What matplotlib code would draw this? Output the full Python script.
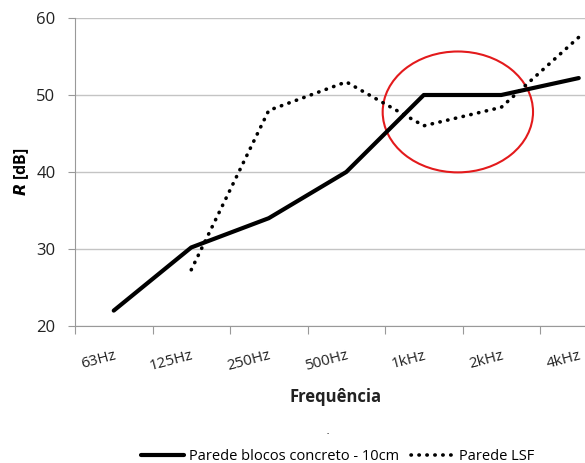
import matplotlib.pyplot as plt
from matplotlib.patches import Ellipse

# data
freqs = ["63Hz", "125Hz", "250Hz", "500Hz", "1kHz", "2kHz", "4kHz"]
concreto = [22.0, 30.2, 34.0, 40.0, 50.0, 50.0, 52.2]
lsf_x = [1, 2, 3, 4, 5, 6]
lsf = [27.3, 48.0, 51.7, 46.0, 48.4, 57.5]

# highlight ellipse (category units, dB)
ell_center = (4.44, 47.8)
ell_w, ell_h = 1.94, 15.7

W, H = 585, 463
fig = plt.figure(figsize=(W / 100, H / 100), dpi=100)
plt.rcParams['font.family'] = ['Open Sans', 'DejaVu Sans']

# axes extends past the right edge (the original image is cropped)
left, right, top, bottom = 75, 617.5, 18, 326
ax = fig.add_axes([left / W, 1 - bottom / H, (right - left) / W, (bottom - top) / H])

x = list(range(len(freqs)))
ax.plot(x, concreto, color="black", lw=3.0, solid_capstyle="round",
        label="Parede blocos concreto - 10cm")
ax.plot(lsf_x, lsf, color="black", lw=2.6, linestyle=(0, (0.1, 2.1)),
        dash_capstyle="round", label="Parede LSF")

ax.add_patch(Ellipse(ell_center, ell_w, ell_h, fill=False, edgecolor="#e31a1c", lw=1.5))

ax.set_xlim(-0.5, len(freqs) - 0.5)
ax.set_ylim(20, 60)
ax.set_yticks([20, 30, 40, 50, 60])
ax.set_xticks([i - 0.5 for i in range(len(freqs) + 1)])
ax.set_xticklabels([])
ax.set_xticks(x, minor=True)
ax.set_xticklabels(freqs, minor=True, rotation=15, fontsize=11, color="#222222",
                   ha="right", va="top", rotation_mode="anchor")
ax.tick_params(axis="x", which="minor", length=0, pad=16)
ax.tick_params(axis="x", which="major", length=6, color="#999999", direction="out")
ax.tick_params(axis="y", length=5, color="#999999", labelsize=12, labelcolor="#222222", pad=9)

ax.grid(axis="y", color="#c4c4c4", lw=1)
ax.set_axisbelow(True)
for s in ["top", "right"]:
    ax.spines[s].set_visible(False)
for s in ["left", "bottom"]:
    ax.spines[s].set_color("#999999")

ax.set_ylabel(r"$\mathbfit{R}$ [dB]", fontsize=11.5, fontweight="bold", labelpad=4)
fig.text(336 / W, 1 - 397 / H, "Frequência", ha="center", va="center",
         fontsize=12, fontweight="bold", color="#222222")
fig.text(328 / W, 1 - 434 / H, "-", ha="center", va="center", fontsize=5)

fig.legend(loc="center", bbox_to_anchor=(338 / W, 1 - 457 / H), ncol=2, frameon=False,
           fontsize=10.5, handlelength=2.9, handletextpad=0.4, columnspacing=0.8)

fig.savefig("out.png", dpi=100)
